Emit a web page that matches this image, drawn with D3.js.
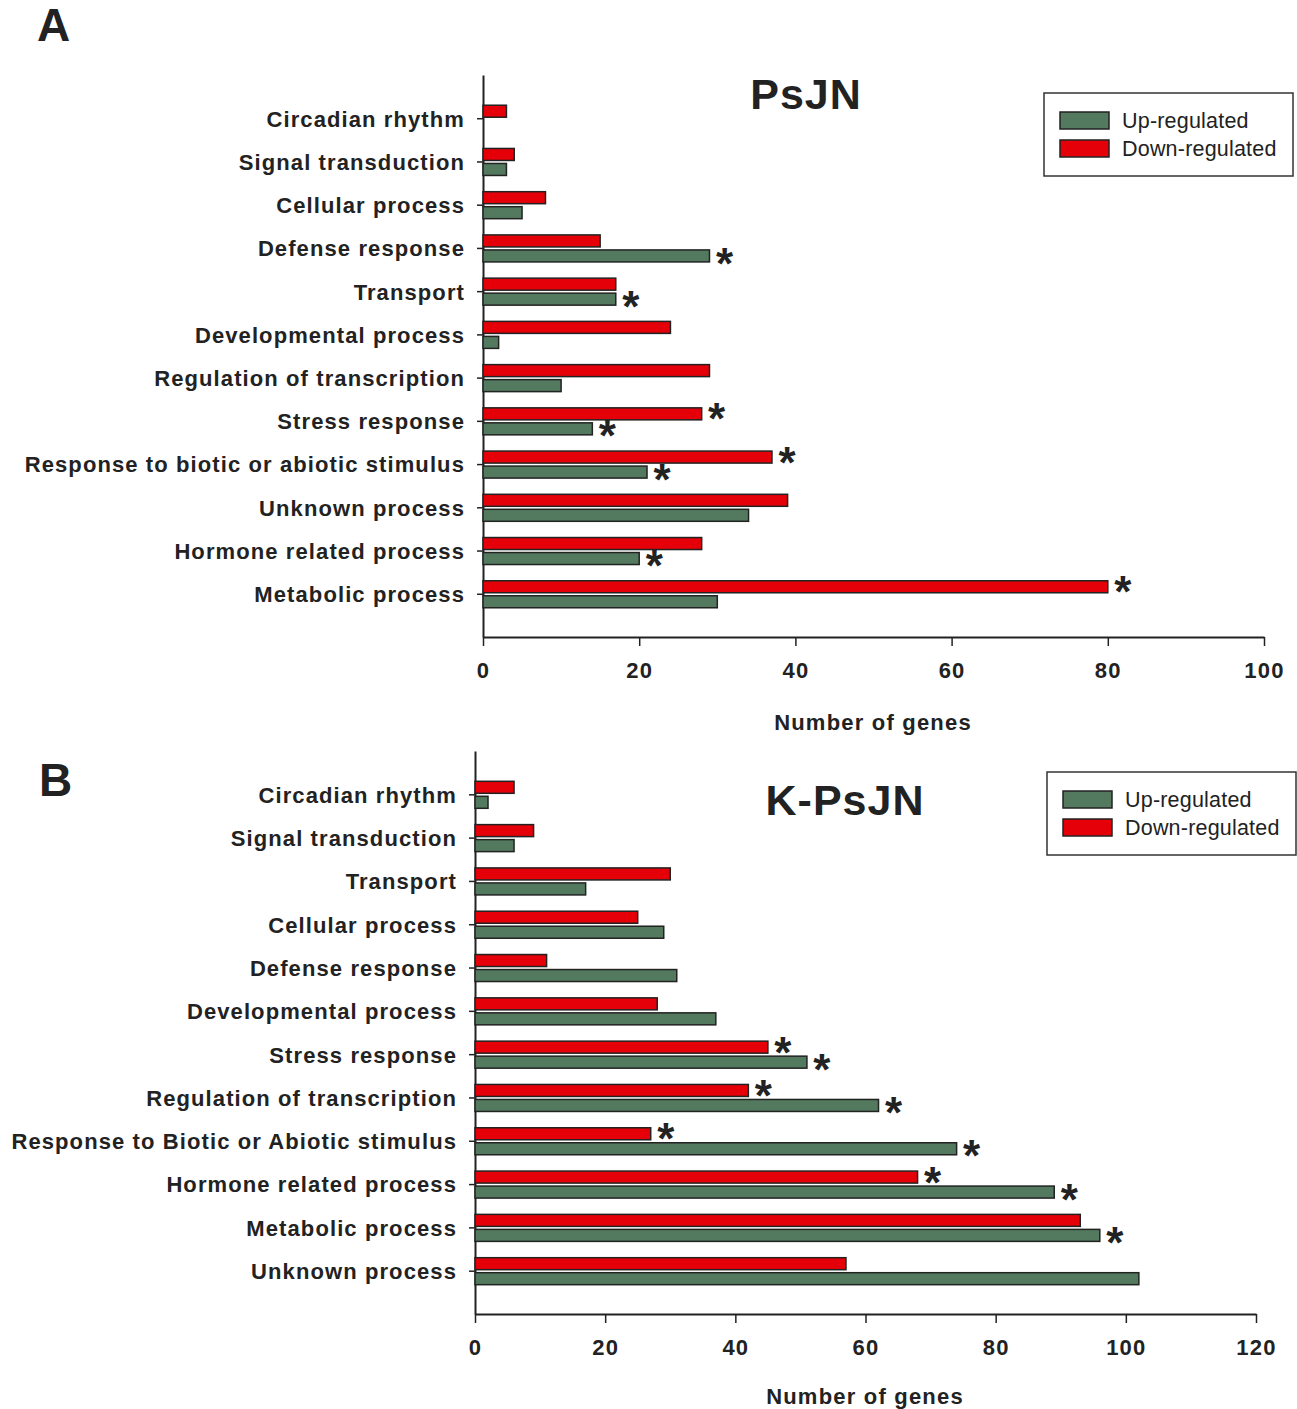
<!DOCTYPE html>
<html>
<head>
<meta charset="utf-8">
<script src="https://cdn.jsdelivr.net/npm/d3@7"></script>
<style>
  body { margin: 0; background: #fff; }
  text { font-family: "Liberation Sans", Arial, sans-serif; }
</style>
</head>
<body>
<div id="chart"></div>
<script>
// panel A - PsJN
var catsA = ["Circadian rhythm", "Signal transduction", "Cellular process", "Defense response",
  "Transport", "Developmental process", "Regulation of transcription", "Stress response",
  "Response to biotic or abiotic stimulus", "Unknown process", "Hormone related process", "Metabolic process"];
var upA   = [0, 3, 5, 29, 17, 2, 10, 14, 21, 34, 20, 30];
var downA = [3, 4, 8, 15, 17, 24, 29, 28, 37, 39, 28, 80];
var starUpA   = [0, 0, 0, 1, 1, 0, 0, 1, 1, 0, 1, 0];
var starDownA = [0, 0, 0, 0, 0, 0, 0, 1, 1, 0, 0, 1];
var ticksA = [0, 20, 40, 60, 80, 100];

// panel B - K-PsJN
var catsB = ["Circadian rhythm", "Signal transduction", "Transport", "Cellular process",
  "Defense response", "Developmental process", "Stress response", "Regulation of transcription",
  "Response to Biotic or Abiotic stimulus", "Hormone related process", "Metabolic process", "Unknown process"];
var upB   = [2, 6, 17, 29, 31, 37, 51, 62, 74, 89, 96, 102];
var downB = [6, 9, 30, 25, 11, 28, 45, 42, 27, 68, 93, 57];
var starUpB   = [0, 0, 0, 0, 0, 0, 1, 1, 1, 1, 1, 0];
var starDownB = [0, 0, 0, 0, 0, 0, 1, 1, 1, 1, 0, 0];
var ticksB = [0, 20, 40, 60, 80, 100, 120];

var upColor = "#537a5f", downColor = "#e50009", ink = "#222";

var svg = d3.select("#chart").append("svg")
    .attr("width", 1297)
    .attr("height", 1409);

function drawPanel(p) {
    var g = svg.append("g");

    var x = d3.scaleLinear().domain([0, p.max]).range([p.left, p.right]);
    var y = d3.scalePoint().domain(p.cats).range([p.top, p.bottom]).padding(1);

    // axes
    var ya = g.append("g")
        .attr("transform", "translate(" + p.left + ",0)")
        .call(d3.axisLeft(y).tickSize(6).tickSizeOuter(0).tickPadding(12));
    ya.selectAll("text")
        .attr("font-size", 22)
        .attr("font-weight", "bold")
        .attr("letter-spacing", "1.1px")
        .attr("fill", ink)
        .attr("dy", "0.36em");

    var xa = g.append("g")
        .attr("transform", "translate(0," + p.bottom + ")")
        .call(d3.axisBottom(x).tickValues(p.ticks).tickSize(9).tickSizeOuter(0).tickPadding(16));
    xa.selectAll("text")
        .attr("font-size", 22)
        .attr("font-weight", "bold")
        .attr("letter-spacing", "1.2px")
        .attr("fill", ink);

    g.selectAll(".domain").attr("stroke", ink).attr("stroke-width", 2);
    g.selectAll(".tick line").attr("stroke", ink).attr("stroke-width", 1.5);

    // bars
    var bh = 12;
    g.append("g").selectAll("rect")
        .data(p.cats)
        .enter()
        .append("rect")
        .attr("x", x(0))
        .attr("y", function (d) { return y(d) - bh - 1; })
        .attr("width", function (d, i) { return x(p.down[i]) - x(0); })
        .attr("height", bh)
        .attr("fill", downColor)
        .attr("stroke", ink)
        .attr("stroke-width", 1.5)
        .style("display", function (d, i) { return p.down[i] > 0 ? null : "none"; });

    g.append("g").selectAll("rect")
        .data(p.cats)
        .enter()
        .append("rect")
        .attr("x", x(0))
        .attr("y", function (d) { return y(d) + 2; })
        .attr("width", function (d, i) { return x(p.up[i]) - x(0); })
        .attr("height", bh)
        .attr("fill", upColor)
        .attr("stroke", ink)
        .attr("stroke-width", 1.5)
        .style("display", function (d, i) { return p.up[i] > 0 ? null : "none"; });

    // significance stars
    var fs = 44;
    g.append("g").selectAll("text")
        .data(p.cats.filter(function (d, i) { return p.starDown[i]; }))
        .enter()
        .append("text")
        .attr("x", function (d) { return x(p.down[p.cats.indexOf(d)]) + 15; })
        .attr("y", function (d) { return y(d) - 7.5 + fs * 0.48; })
        .attr("text-anchor", "middle")
        .attr("font-size", fs)
        .attr("font-weight", "bold")
        .attr("fill", ink)
        .text("*");

    g.append("g").selectAll("text")
        .data(p.cats.filter(function (d, i) { return p.starUp[i]; }))
        .enter()
        .append("text")
        .attr("x", function (d) { return x(p.up[p.cats.indexOf(d)]) + 15; })
        .attr("y", function (d) { return y(d) + 9.5 + fs * 0.48; })
        .attr("text-anchor", "middle")
        .attr("font-size", fs)
        .attr("font-weight", "bold")
        .attr("fill", ink)
        .text("*");

    // axis title
    g.append("text")
        .attr("x", p.xTitleX)
        .attr("y", p.bottom + p.xTitleDy)
        .attr("text-anchor", "middle")
        .attr("font-size", 22)
        .attr("font-weight", "bold")
        .attr("letter-spacing", "1.2px")
        .attr("fill", ink)
        .text("Number of genes");

    // chart title
    g.append("text")
        .attr("x", p.titleX)
        .attr("y", p.titleY)
        .attr("text-anchor", "middle")
        .attr("font-size", 43)
        .attr("font-weight", "bold")
        .attr("letter-spacing", "1px")
        .attr("fill", ink)
        .text(p.title);

    // panel letter
    g.append("text")
        .attr("x", p.letterX)
        .attr("y", p.letterY)
        .attr("font-size", 46)
        .attr("font-weight", "bold")
        .attr("fill", ink)
        .text(p.letter);

    // legend
    var lg = g.append("g").attr("transform", "translate(" + p.legX + "," + p.legY + ")");
    lg.append("rect")
        .attr("width", 249).attr("height", 83)
        .attr("fill", "#fff").attr("stroke", "#333").attr("stroke-width", 1.5);
    [["Up-regulated", upColor], ["Down-regulated", downColor]].forEach(function (it, i) {
        lg.append("rect")
            .attr("x", 16).attr("y", 19 + i * 28)
            .attr("width", 49).attr("height", 17)
            .attr("fill", it[1]).attr("stroke", ink).attr("stroke-width", 1.5);
        lg.append("text")
            .attr("x", 78).attr("y", 35 + i * 28)
            .attr("font-size", 21.5)
            .attr("letter-spacing", "0.2px")
            .attr("fill", ink)
            .text(it[0]);
    });
}

drawPanel({
    cats: catsA, up: upA, down: downA, starUp: starUpA, starDown: starDownA,
    ticks: ticksA, max: 100, left: 483, right: 1264, top: 75, bottom: 637,
    title: "PsJN", titleX: 806, titleY: 109, letter: "A", letterX: 37, letterY: 41,
    xTitleX: 873, xTitleDy: 93, legX: 1044, legY: 93
});

drawPanel({
    cats: catsB, up: upB, down: downB, starUp: starUpB, starDown: starDownB,
    ticks: ticksB, max: 120, left: 475, right: 1256, top: 751, bottom: 1314,
    title: "K-PsJN", titleX: 845, titleY: 815, letter: "B", letterX: 39, letterY: 796,
    xTitleX: 865, xTitleDy: 90, legX: 1047, legY: 772
});
</script>
</body>
</html>
